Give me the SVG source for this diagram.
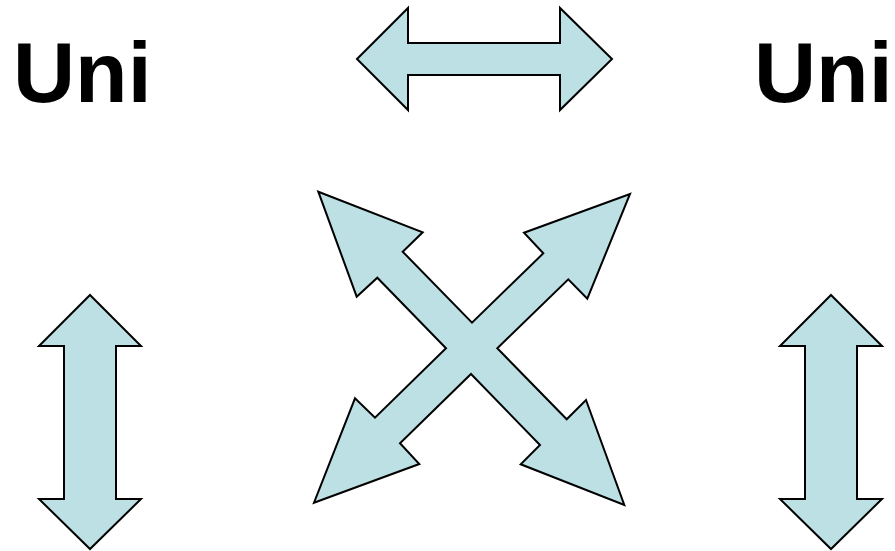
<svg xmlns="http://www.w3.org/2000/svg" width="895" height="551" viewBox="0 0 895 551">
<style>
.arrow{fill:#bce0e3;stroke:#000;stroke-width:2;stroke-linejoin:miter}
.lbl{font-family:"Liberation Sans",Arial,sans-serif;font-weight:bold;font-size:86px;fill:#000}
</style>
<rect width="895" height="551" fill="#fff"/>
<g id="label-left"><text class="lbl" x="13" y="102">Uni</text></g>
<g id="label-right"><text class="lbl" x="754" y="102">Uni</text></g>
<g id="connectors">
<polygon id="arrow-horizontal" class="arrow" points="357,59 408,8 408,43 560,43 560,8 612,59 560,110 560,75 408,75 408,110"/>
<polygon id="arrow-vertical-left" class="arrow" points="90,295 141,346 116,346 116,499 141,499 90,549 39,499 64,499 64,346 39,346"/>
<polygon id="arrow-vertical-right" class="arrow" points="831,295 882,346 857,346 857,499 882,499 831,549 780,499 805,499 805,346 780,346"/>
<polygon id="arrow-cross" class="arrow" points="318.3,191.7 422.7,232.3 402.7,251.7 472,322.7 543.3,253.3 524,232.7 630,194 587.3,298.7 568.3,279.3 497.3,348.3 566.7,419.3 586,400 624.3,505 520.7,464.3 540,445 471,374 400,443.3 419.3,464 314,502.7 355,398.3 375,417.7 446,348.3 377.3,277.7 356.7,296.7"/>
</g>
</svg>
